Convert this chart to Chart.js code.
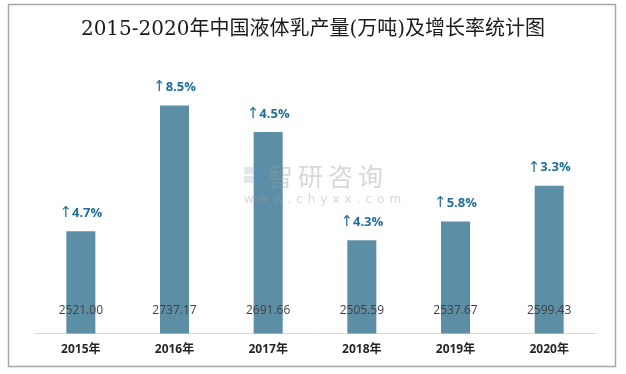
<!DOCTYPE html>
<html>
<head>
<meta charset="utf-8">
<script src="https://cdn.jsdelivr.net/npm/chart.js@4.4.0/dist/chart.umd.min.js"></script>
<style>
    html, body { margin: 0; padding: 0; background: #ffffff; }
    #box { width: 626px; height: 374px; }
</style>
</head>
<body>
<div id="box"><canvas id="milkChart" width="626" height="374"></canvas></div>
<script>
const years = ["2015年", "2016年", "2017年", "2018年", "2019年", "2020年"];
const output = [2521.00, 2737.17, 2691.66, 2505.59, 2537.67, 2599.43]; // 万吨
const growth = ["4.7%", "8.5%", "4.5%", "4.3%", "5.8%", "3.3%"];

const titleText = "2015-2020年中国液体乳产量(万吨)及增长率统计图";

// 标题、外框、水印、数值标签
const decorPlugin = {
    id: "decor",
    beforeDraw(chart) {
        const c = chart.ctx;
        c.save();
        c.fillStyle = "#ffffff";
        c.fillRect(0, 0, chart.width, chart.height);
        c.strokeStyle = "#a6a6a6";
        c.lineWidth = 1.5;
        c.strokeRect(8.5, 4.5, 607, 362);
        c.fillStyle = "#1a1a1a";
        c.font = "20px 'DejaVu Serif', 'Noto Sans CJK SC', serif";
        c.textAlign = "center";
        c.textBaseline = "middle";
        c.fillText(titleText, 313, 30);
        c.restore();
    },
    afterDatasetsDraw(chart) {
        const c = chart.ctx;
        const meta = chart.getDatasetMeta(0);
        c.save();
        // 水印
        c.globalAlpha = 0.4;
        c.fillStyle = "#b8c2cc";
        c.fillRect(244, 167, 10, 7);
        c.fillRect(244, 176, 10, 7);
        c.fillStyle = "#4f8fc9";
        c.fillRect(256, 167, 5, 16);
        c.fillStyle = "#9a9a9a";
        c.font = "25px 'Noto Sans CJK SC'";
        c.textAlign = "left";
        c.textBaseline = "middle";
        c.letterSpacing = "5px";
        c.fillText("智研咨询", 268, 176);
        c.font = "12px 'DejaVu Sans'";
        c.letterSpacing = "5px";
        c.fillText("www.chyxx.com", 244, 200);
        c.letterSpacing = "0px";
        c.globalAlpha = 1;

        c.textBaseline = "middle";
        meta.data.forEach((bar, i) => {
            c.textAlign = "center";
            c.fillStyle = "#404040";
            c.font = "12px 'Open Sans', 'Noto Sans'";
            c.fillText(output[i].toFixed(2), bar.x, 311);

            // 增长率：箭头 + 百分比
            c.fillStyle = "#1f6f98";
            c.font = "bold 13px 'Open Sans', 'Noto Sans'";
            const pw = c.measureText(growth[i]).width;
            c.font = "15px 'DejaVu Sans'";
            const aw = c.measureText("↑").width;
            const x0 = bar.x - (pw + aw) / 2;
            const y = bar.y - 18;
            c.textAlign = "left";
            c.fillText("↑", x0, y);
            c.font = "bold 13px 'Open Sans', 'Noto Sans'";
            c.fillText(growth[i], x0 + aw, y);
        });
        c.restore();
    }
};

new Chart(document.getElementById("milkChart").getContext("2d"), {
    type: "bar",
    data: {
        labels: years,
        datasets: [{
            data: output,
            backgroundColor: "#5c8fa6",
            borderWidth: 0,
            barPercentage: 0.62,
            categoryPercentage: 0.5
        }]
    },
    options: {
        responsive: false,
        animation: false,
        layout: { padding: { left: 34, right: 30, top: 62, bottom: 16 } },
        plugins: {
            legend: { display: false },
            tooltip: { enabled: false }
        },
        scales: {
            x: {
                grid: { display: false },
                border: { color: "#d9d9d9", width: 1 },
                ticks: {
                    color: "#262626",
                    font: { family: "'Open Sans', 'Noto Sans CJK SC'", size: 12, weight: "bold" },
                    padding: 1
                }
            },
            y: {
                display: false,
                min: 2345,
                max: 2812
            }
        }
    },
    plugins: [decorPlugin]
});
</script>
</body>
</html>
